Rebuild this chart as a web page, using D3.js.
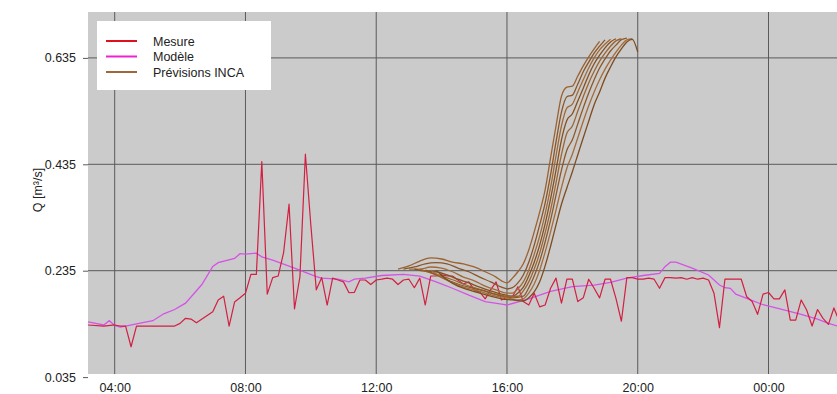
<!DOCTYPE html>
<html>
<head>
<meta charset="utf-8">
<script src="https://cdn.jsdelivr.net/npm/d3@7"></script>
<style>
  body { margin: 0; background: #fff; }
  svg { display: block; font-family: "Liberation Sans", Arial, sans-serif; }
</style>
</head>
<body>
<svg id="chart" width="837" height="394"></svg>
<script>
// Débit mesuré (pas de 10 min)
const mesure = [
  ["03:10",.133],["03:40",.131],["04:00",.133],["04:10",.131],["04:20",.131],["04:30",.092],["04:40",.131],
  ["05:50",.131],["06:00",.136],["06:10",.1455],["06:20",.144],["06:30",.137],["07:00",.158],["07:10",.180],
  ["07:20",.187],["07:30",.131],["07:40",.176],["07:50",.184],["08:00",.1925],["08:10",.228],["08:20",.228],
  ["08:30",.440],["08:40",.191],["08:50",.222],["09:00",.225],["09:10",.269],["09:20",.360],["09:30",.163],
  ["09:40",.224],["09:50",.454],["10:00",.321],["10:10",.199],["10:20",.222],["10:30",.1705],["10:40",.221],
  ["10:50",.2175],["11:00",.214],["11:10",.1936],["11:20",.1944],["11:30",.2175],["11:40",.2175],["11:50",.209],
  ["12:00",.2175],["12:10",.219],["12:20",.221],["12:30",.219],["12:40",.209],["12:50",.2175],["13:00",.219],
  ["13:10",.203],["13:20",.221],["13:30",.1705],["13:40",.225],["13:50",.225],["14:00",.227],["14:10",.225],
  ["14:20",.225],["14:30",.2175],["14:40",.210],["14:50",.214],["15:00",.199],["15:10",.195],["15:20",.182],
  ["15:30",.199],["15:40",.214],["15:50",.180],["16:00",.185],["16:10",.186],["16:20",.205],["16:30",.177],
  ["16:40",.1705],["16:50",.1925],["17:00",.167],["17:10",.1705],["17:20",.202],["17:30",.221],["17:40",.174],
  ["17:50",.219],["18:00",.219],["18:10",.177],["18:20",.184],["18:30",.219],["18:40",.202],["18:50",.184],
  ["19:00",.219],["19:10",.219],["19:20",.183],["19:30",.140],["19:40",.222],["19:50",.222],["20:00",.219],
  ["20:10",.219],["20:20",.221],["20:30",.219],["20:40",.202],["20:50",.222],["21:00",.222],["21:10",.221],
  ["21:20",.222],["21:30",.219],["21:40",.222],["21:50",.219],["22:00",.221],["22:10",.2175],["22:20",.1925],
  ["22:30",.128],["22:40",.219],["22:50",.219],["23:00",.219],["23:10",.219],["23:20",.186],["23:30",.177],
  ["23:40",.153],["23:50",.191],["00:00",.194],["00:10",.182],["00:20",.182],["00:30",.199],["00:40",.142],
  ["00:50",.142],["01:00",.180],["01:10",.161],["01:20",.131],["01:30",.162],["01:40",.1455],["01:50",.134],
  ["02:00",.165],["02:10",.140]
];

// Débit simulé par le modèle
const modele = [
  ["03:10",.139],["03:40",.133],["03:50",.141],["04:00",.132],["04:10",.129],["04:20",.131],["04:40",.135],
  ["05:10",.141],["05:30",.154],["05:50",.162],["06:10",.174],["06:40",.209],["07:00",.243],["07:10",.250],
  ["07:40",.258],["07:50",.267],["08:00",.266],["08:20",.268],["08:30",.261],["08:50",.255],["09:30",.240],
  ["10:10",.224],["10:20",.221],["10:50",.219],["11:10",.214],["11:20",.219],["11:40",.221],["12:10",.226],
  ["12:50",.228],["13:20",.225],["13:50",.214],["14:20",.202],["14:50",.189],["15:20",.177],["15:50",.172],
  ["16:00",.1705],["16:40",.182],["17:20",.196],["18:00",.205],["18:40",.208],["19:10",.213],["19:40",.221],
  ["20:10",.226],["20:40",.230],["20:50",.2425],["21:00",.251],["21:10",.251],["21:40",.240],["22:10",.227],
  ["22:30",.208],["22:40",.203],["22:50",.202],["23:00",.191],["23:20",.183],["23:50",.171],["00:30",.161],
  ["01:00",.153],["01:30",.144],["01:50",.136],["02:10",.130]
];

// Prévisions INCA, une série par heure de lancement
const inca1 = [["12:40",.238],["13:00",.244],["13:20",.253],["13:40",.259],["14:00",.257],["14:20",.251],["14:40",.248],["15:00",.242],["15:20",.233],["15:40",.223],["15:50",.216],["16:00",.212],["16:10",.221],["16:20",.233],["16:30",.248],["16:40",.274],["16:50",.308],["17:00",.345],["17:10",.387],["17:20",.447],["17:30",.507],["17:40",.563],["17:50",.580],["18:00",.582],["18:10",.601],["18:20",.620],["18:30",.637],["18:40",.652],["18:50",.666]];
const inca2 = [["12:50",.238],["13:10",.242],["13:30",.248],["13:50",.250],["14:10",.248],["14:30",.240],["14:50",.233],["15:10",.223],["15:30",.214],["15:50",.204],["16:00",.201],["16:10",.203],["16:20",.212],["16:30",.227],["16:40",.251],["16:50",.283],["17:00",.321],["17:10",.362],["17:20",.415],["17:30",.477],["17:40",.533],["17:50",.562],["18:00",.565],["18:10",.586],["18:20",.609],["18:30",.627],["18:40",.644],["18:50",.657],["19:00",.669]];
const inca3 = [["13:00",.238],["13:20",.238],["13:40",.242],["14:00",.240],["14:20",.233],["14:40",.223],["15:00",.216],["15:20",.206],["15:40",.199],["16:00",.193],["16:10",.193],["16:20",.201],["16:30",.214],["16:40",.236],["16:50",.266],["17:00",.300],["17:10",.342],["17:20",.391],["17:30",.451],["17:40",.507],["17:50",.541],["18:00",.548],["18:10",.571],["18:20",.594],["18:30",.616],["18:40",.635],["18:50",.650],["19:00",.661],["19:10",.670]];
const inca4 = [["13:10",.238],["13:30",.234],["13:50",.233],["14:10",.227],["14:30",.219],["14:50",.212],["15:10",.204],["15:30",.197],["15:50",.191],["16:10",.187],["16:20",.193],["16:30",.204],["16:40",.225],["16:50",.251],["17:00",.283],["17:10",.323],["17:20",.370],["17:30",.424],["17:40",.481],["17:50",.518],["18:00",.530],["18:10",.554],["18:20",.578],["18:30",.603],["18:40",.624],["18:50",.640],["19:00",.654],["19:10",.665],["19:20",.671]];
const inca5 = [["13:20",.238],["13:40",.231],["14:00",.225],["14:20",.218],["14:40",.210],["15:00",.203],["15:20",.197],["15:40",.191],["16:00",.187],["16:20",.187],["16:30",.197],["16:40",.214],["16:50",.238],["17:00",.268],["17:10",.306],["17:20",.349],["17:30",.400],["17:40",.453],["17:50",.494],["18:00",.507],["18:10",.535],["18:20",.562],["18:30",.588],["18:40",.610],["18:50",.629],["19:00",.644],["19:10",.657],["19:20",.667],["19:30",.671]];
const inca6 = [["13:30",.236],["13:50",.227],["14:10",.218],["14:30",.210],["14:50",.204],["15:10",.199],["15:30",.193],["15:50",.187],["16:10",.184],["16:30",.187],["16:40",.203],["16:50",.225],["17:00",.253],["17:10",.289],["17:20",.330],["17:30",.377],["17:40",.424],["17:50",.462],["18:00",.481],["18:10",.511],["18:20",.541],["18:30",.569],["18:40",.594],["18:50",.616],["19:00",.633],["19:10",.648],["19:20",.659],["19:30",.669],["19:40",.672]];
const inca7 = [["13:40",.236],["14:00",.223],["14:20",.212],["14:40",.204],["15:00",.199],["15:20",.193],["15:40",.187],["16:00",.184],["16:20",.180],["16:30",.182],["16:40",.193],["16:50",.210],["17:00",.236],["17:10",.270],["17:20",.308],["17:30",.349],["17:40",.391],["17:50",.428],["18:00",.454],["18:10",.485],["18:20",.516],["18:30",.545],["18:40",.571],["18:50",.594],["19:00",.614],["19:10",.631],["19:20",.646],["19:30",.659],["19:40",.669],["19:50",.671]];
const inca8 = [["13:50",.236],["14:10",.218],["14:30",.206],["14:50",.199],["15:10",.193],["15:30",.187],["15:50",.182],["16:10",.180],["16:30",.178],["16:40",.184],["16:50",.195],["17:00",.214],["17:10",.244],["17:20",.281],["17:30",.321],["17:40",.360],["17:50",.391],["18:00",.421],["18:10",.453],["18:20",.485],["18:30",.516],["18:40",.547],["18:50",.571],["19:00",.597],["19:10",.618],["19:20",.637],["19:30",.652],["19:40",.665],["19:50",.670],["20:00",.646]];
const previsions = [inca1, inca2, inca3, inca4, inca5, inca6, inca7, inca8];

const yTicks = [0.035, 0.235, 0.435, 0.635];
const xTicks = ["04:00", "08:00", "12:00", "16:00", "20:00", "00:00"];
const legendItems = [
  { label: "Mesure", color: "#e0101e" },
  { label: "Modèle", color: "#ee22d0" },
  { label: "Prévisions INCA", color: "#a0683a" }
];

// heures avant 03:00 -> jour suivant
function toDate(s) {
  const [h, m] = s.split(":").map(Number);
  return new Date(2020, 0, h < 3 ? 2 : 1, h, m);
}

const svg = d3.select("#chart");
const plot = { left: 88, right: 837, top: 12, bottom: 374 };

const x = d3.scaleTime()
  .domain([toDate("04:00"), toDate("00:00")])
  .range([114.7, 768.5]);
const y = d3.scaleLinear()
  .domain([0.035, 0.635])
  .range([377.1, 57.9]);

svg.append("defs").append("clipPath").attr("id", "clip")
  .append("rect")
  .attr("x", plot.left).attr("y", plot.top)
  .attr("width", plot.right - plot.left).attr("height", plot.bottom - plot.top);

svg.append("rect")
  .attr("x", plot.left).attr("y", plot.top)
  .attr("width", plot.right - plot.left).attr("height", plot.bottom - plot.top)
  .attr("fill", "#cbcbcb");

// grille
const grid = svg.append("g").attr("clip-path", "url(#clip)");
grid.selectAll("line.gx")
  .data(xTicks)
  .enter().append("line")
  .attr("x1", d => x(toDate(d))).attr("x2", d => x(toDate(d)))
  .attr("y1", plot.top).attr("y2", plot.bottom)
  .attr("stroke", "#5a5a5a").attr("stroke-width", 1);
grid.selectAll("line.gy")
  .data(yTicks)
  .enter().append("line")
  .attr("x1", plot.left).attr("x2", plot.right)
  .attr("y1", d => y(d)).attr("y2", d => y(d))
  .attr("stroke", "#5a5a5a").attr("stroke-width", 1);

// axes
const yAxis = d3.axisLeft(y)
  .tickValues(yTicks)
  .tickSize(5)
  .tickFormat(d3.format(".3f"));
const gy = svg.append("g")
  .attr("transform", `translate(${plot.left},0)`)
  .call(yAxis);
gy.select(".domain").remove();
gy.selectAll(".tick line").attr("stroke", "#5a5a5a");
gy.selectAll(".tick text")
  .attr("x", -12)
  .attr("fill", "#222")
  .style("font-size", "12.5px")
  .style("font-family", '"Liberation Sans", Arial, sans-serif');

const xAxis = d3.axisBottom(x)
  .tickValues(xTicks.map(toDate))
  .tickSize(0)
  .tickFormat(d3.timeFormat("%H:%M"));
const gx = svg.append("g")
  .attr("transform", `translate(0,${plot.bottom})`)
  .call(xAxis);
gx.select(".domain").remove();
gx.selectAll(".tick text")
  .attr("y", 9)
  .attr("fill", "#222")
  .style("font-size", "12.5px")
  .style("font-family", '"Liberation Sans", Arial, sans-serif');

svg.append("text")
  .attr("transform", "translate(42,190) rotate(-90)")
  .attr("text-anchor", "middle")
  .attr("fill", "#222")
  .style("font-size", "12.5px")
  .text("Q [m³/s]");

// courbes
const line = d3.line()
  .x(d => x(toDate(d[0])))
  .y(d => y(d[1]));
const smooth = d3.line()
  .x(d => x(toDate(d[0])))
  .y(d => y(d[1]))
  .curve(d3.curveMonotoneX);

const series = svg.append("g").attr("clip-path", "url(#clip)");

series.append("path")
  .datum(modele)
  .attr("d", line)
  .attr("fill", "none")
  .attr("stroke", "#d552e6")
  .attr("stroke-width", 1.3);

series.append("path")
  .datum(mesure)
  .attr("d", line)
  .attr("fill", "none")
  .attr("stroke", "#d21f42")
  .attr("stroke-width", 1.2)
  .attr("stroke-linejoin", "round");

const brown = ["#9a6230", "#8a5526", "#a06a38", "#85501f", "#9c6634", "#8d5828", "#a36c3a", "#7e4c1e"];
series.selectAll("path.inca")
  .data(previsions)
  .enter().append("path")
  .attr("class", "inca")
  .attr("d", smooth)
  .attr("fill", "none")
  .attr("stroke", (d, i) => brown[i % brown.length])
  .attr("stroke-width", 1.3);

// légende
const legend = svg.append("g");
legend.append("rect")
  .attr("x", 97).attr("y", 21)
  .attr("width", 174).attr("height", 69)
  .attr("fill", "#fff");
const item = legend.selectAll("g.item")
  .data(legendItems)
  .enter().append("g")
  .attr("transform", (d, i) => `translate(0,${41 + i * 15.5})`);
item.append("line")
  .attr("x1", 106).attr("x2", 137)
  .attr("stroke", d => d.color)
  .attr("stroke-width", 2);
item.append("text")
  .attr("x", 153).attr("y", 4.5)
  .attr("fill", "#222")
  .style("font-size", "12.5px")
  .text(d => d.label);
</script>
</body>
</html>
